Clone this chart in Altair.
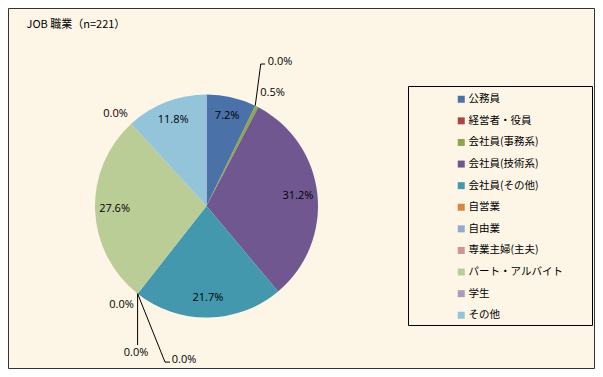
import math
import altair as alt
import pandas as pd

# ---------------- data ----------------
categories = ["公務員", "経営者・役員", "会社員(事務系)", "会社員(技術系)", "会社員(その他)",
              "自営業", "自由業", "専業主婦(主夫)", "パート・アルバイト", "学生", "その他"]
shares = [7.2, 0.0, 0.5, 31.2, 21.7, 0.0, 0.0, 0.0, 27.6, 0.0, 11.8]
colors = ["#4A72A8", "#A94643", "#8BA64F", "#71578F", "#4398AE", "#DB843D",
          "#93A9D0", "#D09392", "#BACD96", "#A99BBD", "#93C4DA"]
title_text = "JOB 職業（n=221）"

# ---------------- layout (chart-local pixels) ----------------
W, H = 587, 361
CX, CY, R = 198.5, 198.0, 111.5
LABEL_R = 92
BG = "#FDF6E7"
NUM_FONT = "Open Sans"
JP_FONT = "Noto Sans CJK JP"

# label offsets (relative to the slice's point on the rim) for the 0.0% labels
zero_offsets = {
    "経営者・役員": (24.8, -43.7),
    "自営業": (-16.1, 11.4),
    "自由業": (-1.6, 59.4),
    "専業主婦(主夫)": (46.4, 66.4),
    "学生": (-15.7, -9.8),
}
# leader line paths (relative to the slice's point on the rim)
leader_paths = {
    "経営者・役員": [(0, 0), (5.5, -41.7), (9.8, -41.7)],
    "自由業": [(0, 0), (0, 51.4)],
    "専業主婦(主夫)": [(0, 0), (27.4, 68.4), (32.4, 68.4)],
}

df = pd.DataFrame({"cat": categories, "share": shares, "idx": list(range(len(categories)))})
df["start"] = df["share"].cumsum() - df["share"]
df["mid"] = df["start"] + df["share"] / 2
df["label"] = df["share"].map(lambda v: f"{v:.1f}%")

theta_scale = alt.Scale(domain=[0, 100], range=[0, 2 * math.pi])
color_scale = alt.Scale(domain=categories, range=colors)

base = alt.Chart(df)

pie = base.mark_arc(outerRadius=R, strokeWidth=0).encode(
    theta=alt.Theta("share:Q", stack=True, scale=theta_scale),
    color=alt.Color("cat:N", scale=color_scale, sort=categories,
                    legend=alt.Legend(orient="none", legendX=448, legendY=86, title=None,
                                      symbolType="square", symbolSize=49, symbolStrokeWidth=0,
                                      labelFont=JP_FONT, labelFontSize=10.5, labelColor="#000",
                                      labelOffset=2, rowPadding=10.6, padding=0)),
    order=alt.Order("idx:Q"),
    x=alt.value(CX), y=alt.value(CY),
)

inside = base.transform_filter("datum.share >= 1").mark_text(
    radius=LABEL_R, font=NUM_FONT, fontSize=11, color="#000", baseline="middle", align="center"
).encode(
    theta=alt.Theta("mid:Q", stack=None, scale=theta_scale),
    text="label:N", x=alt.value(CX), y=alt.value(CY),
)

small = base.transform_filter("datum.share > 0 && datum.share < 1").mark_text(
    radius=131, dx=7, dy=4, font=NUM_FONT, fontSize=11, color="#000", baseline="middle", align="center"
).encode(
    theta=alt.Theta("mid:Q", stack=None, scale=theta_scale),
    text="label:N", x=alt.value(CX), y=alt.value(CY),
)

zero_layers = []
for cat, (ox, oy) in zero_offsets.items():
    zero_layers.append(
        base.transform_filter(alt.datum.cat == cat).mark_text(
            radius=R, dx=ox, dy=oy, font=NUM_FONT, fontSize=11, color="#000",
            baseline="middle", align="center"
        ).encode(
            theta=alt.Theta("start:Q", stack=None, scale=theta_scale),
            text="label:N", x=alt.value(CX), y=alt.value(CY),
        )
    )

# leader line segments anchored at the slice's rim point
rows = []
for cat, path in leader_paths.items():
    s = float(df.loc[df["cat"] == cat, "start"].iloc[0])
    ang = 2 * math.pi * s / 100
    ax, ay = CX + R * math.sin(ang), CY - R * math.cos(ang)
    for (x1, y1), (x2, y2) in zip(path[:-1], path[1:]):
        rows.append({"cat": cat, "x": ax + x1, "y": ay + y1, "x2": ax + x2, "y2": ay + y2})
leaders = alt.Chart(pd.DataFrame(rows)).mark_rule(color="#000", strokeWidth=1).encode(
    x=alt.X("x:Q", scale=None), y=alt.Y("y:Q", scale=None),
    x2="x2:Q", y2="y2:Q",
)

one = alt.Chart(pd.DataFrame({"a": [0]}))
legend_box = one.mark_rect(fill=BG, fillOpacity=0, stroke="#000", strokeWidth=1).encode(
    x=alt.value(400.5), x2=alt.value(584.5), y=alt.value(78.5), y2=alt.value(317.5)
)
outer_box = one.mark_rect(fillOpacity=0, stroke="#333", strokeWidth=1).encode(
    x=alt.value(0.5), x2=alt.value(W - 0.5), y=alt.value(0.5), y2=alt.value(H - 0.5)
)
title = one.mark_text(align="left", baseline="middle", font=JP_FONT, fontSize=11, color="#000").encode(
    x=alt.value(18.5), y=alt.value(16.5), text=alt.value(title_text)
)

chart = alt.layer(outer_box, legend_box, pie, leaders, inside, small, *zero_layers, title).properties(
    width=W, height=H, padding=0, autosize=alt.AutoSizeParams(type="none"), background=BG
).configure_view(stroke=None)

chart.save("out.html", embed_options={"renderer": "svg", "actions": False})
